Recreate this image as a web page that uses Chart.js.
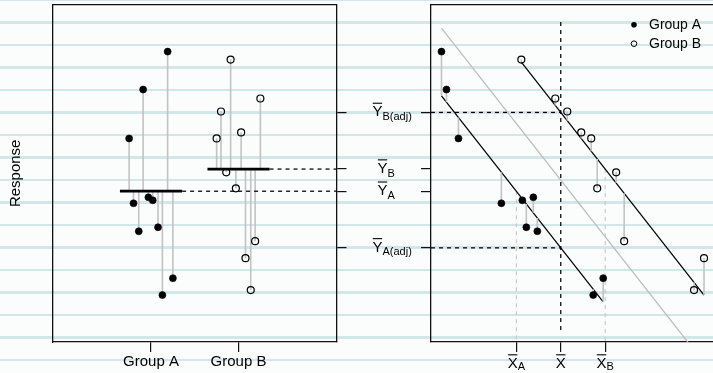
<!DOCTYPE html>
<html>
<head>
<meta charset="utf-8">
<script src="https://cdn.jsdelivr.net/npm/chart.js@4/dist/chart.umd.min.js"></script>
<style>
html, body { margin: 0; padding: 0; width: 713px; height: 373px; overflow: hidden; }
body {
  background-color: #fbfdfc;
  background-image: repeating-linear-gradient(180deg,
    #d2e7e6 0px, #d2e7e6 1.2px,
    #fbfdfc 1.2px, #fbfdfc 21.3px,
    #d2e7e6 21.3px, #d2e7e6 22.5px);
}
#wrap { position: relative; width: 713px; height: 373px; overflow: hidden; }
canvas { position: absolute; left: 0; top: 0; }
</style>
</head>
<body>
<div id="wrap">
  <canvas id="leftChart" width="713" height="373" style="width:713px;height:373px"></canvas>
  <canvas id="rightChart" width="760" height="373" style="width:760px;height:373px"></canvas>
</div>
<script>
// ---------------- data ----------------
const groupLabels = ['Group A', 'Group B'];
const legendLabels = ['Group A', 'Group B'];
const responseTitle = 'Response';

// Group A: jittered position in the left panel, covariate, response
const jitterA = [1.19, 0.91, 0.75, 0.80, 1.02, 1.08, 0.97, 0.86, 1.13, 1.25];
const covA    = [1.0, 1.5, 2.7, 7.0, 9.1, 9.5, 10.2, 10.6, 16.2, 17.2];
const respA   = [29.1, 25.3, 20.4, 13.9, 14.2, 11.5, 14.5, 11.1, 4.7, 6.4];

// Group B
const jitterB = [1.91, 2.25, 1.80, 2.03, 1.75, 1.97, 1.86, 2.19, 2.14, 2.08];
const covB    = [9.0, 12.4, 13.6, 15.0, 16.0, 16.6, 18.5, 19.3, 26.3, 27.3];
const respB   = [28.3, 24.4, 23.1, 21.0, 20.4, 15.4, 17.0, 10.1, 5.2, 8.4];

// tick labels: [symbol with bar, subscript]
const yMeanTickLabels = [['Y', 'A(adj)'], ['Y', 'A'], ['Y', 'B'], ['Y', 'B(adj)']];
const xMeanTickLabels = [['X', 'A'], ['X', ''], ['X', 'B']];

// extent of the vertical reference line at the overall covariate mean
const refLineRange = [1.2, 32.2];

// ---------------- statistics (as in an ANCOVA) ----------------
const mean = a => a.reduce((s, v) => s + v, 0) / a.length;
const sxy = (x, y) => { const mx = mean(x), my = mean(y); return x.reduce((s, v, i) => s + (v - mx) * (y[i] - my), 0); };
const mxA = mean(covA), mxB = mean(covB), myA = mean(respA), myB = mean(respB);
const mxAll = mean(covA.concat(covB)), myAll = mean(respA.concat(respB));
const slope = (sxy(covA, respA) + sxy(covB, respB)) / (sxy(covA, covA) + sxy(covB, covB));
const adjA = myA + slope * (mxAll - mxA);
const adjB = myB + slope * (mxAll - mxB);
const fitA = x => myA + slope * (x - mxA);
const fitB = x => myB + slope * (x - mxB);
const fitAll = x => myAll + slope * (x - mxAll);
const yMeanTickValues = [adjA, myA, myB, adjB];
const xMeanTickValues = [mxA, mxAll, mxB];

// ---------------- styles ----------------
const FONT = "'Liberation Sans', Arial, Helvetica, sans-serif";
const LEFT_X = [-0.12, 3.12];
const RIGHT_X = [-0.05, 28.35];
const Y_RANGE = [0, 33.8];
const MEAN_HALF = 0.355;
const box = { display: true, color: '#111', width: 1.3 };
const noGrid = { display: false };
const tickGrid = { display: true, drawOnChartArea: false, drawTicks: true, tickLength: 10, color: '#111', lineWidth: 1.2 };
const GRAY_SEG = '#c2c2c2';

function lineDs(data, style) {
  return Object.assign({ data, showLine: true, pointRadius: 0, pointHoverRadius: 0, fill: false,
    tension: 0, borderColor: '#000', borderWidth: 1.25, spanGaps: false }, style);
}
function residuals(xs, ys, target) {
  const d = [];
  xs.forEach((x, i) => { d.push({ x, y: ys[i] }, { x, y: target(x) }, { x, y: null }); });
  return d;
}
function pointsDs(xs, ys, filled) {
  return {
    data: xs.map((x, i) => ({ x, y: ys[i] })), showLine: false, order: 0,
    pointRadius: 3.5, pointHoverRadius: 3.5,
    pointBackgroundColor: filled ? '#000' : 'rgba(0,0,0,0)',
    pointBorderColor: '#000', pointBorderWidth: filled ? 0.6 : 1.2
  };
}
const common = {
  responsive: false, animation: false, devicePixelRatio: 1, events: [],
  layout: { padding: 0 },
  plugins: { legend: { display: false }, tooltip: { enabled: false } }
};

// ---------------- left panel ----------------
new Chart(document.getElementById('leftChart'), {
  type: 'scatter',
  data: {
    datasets: [
      pointsDs(jitterA, respA, true),
      pointsDs(jitterB, respB, false),
      lineDs([{ x: 1 - MEAN_HALF, y: myA }, { x: 1 + MEAN_HALF, y: myA }], { borderWidth: 2.7, order: 1 }),
      lineDs([{ x: 2 - MEAN_HALF, y: myB }, { x: 2 + MEAN_HALF, y: myB }], { borderWidth: 2.7, order: 1 }),
      lineDs([{ x: 1 + MEAN_HALF, y: myA }, { x: LEFT_X[1], y: myA }], { borderDash: [4, 4], order: 2 }),
      lineDs([{ x: 2 + MEAN_HALF, y: myB }, { x: LEFT_X[1], y: myB }], { borderDash: [4, 4], order: 2 }),
      lineDs(residuals(jitterA, respA, () => myA), { borderColor: GRAY_SEG, borderWidth: 1.6, order: 3 }),
      lineDs(residuals(jitterB, respB, () => myB), { borderColor: GRAY_SEG, borderWidth: 1.6, order: 3 })
    ]
  },
  options: Object.assign({}, common, {
    scales: {
      x: {
        type: 'linear', position: 'bottom', min: LEFT_X[0], max: LEFT_X[1],
        afterBuildTicks: s => { s.ticks = [1, 2].map(v => ({ value: v })); },
        afterFit: s => { s.height = 31; },
        ticks: { display: true, color: '#000', font: { family: FONT, size: 15 }, padding: 1,
          maxRotation: 0, autoSkip: false, callback: (v, i) => groupLabels[i] },
        grid: tickGrid, border: box
      },
      xTop: {
        type: 'linear', position: 'top', min: LEFT_X[0], max: LEFT_X[1],
        ticks: { display: false }, grid: noGrid, border: box,
        afterFit: s => { s.height = 4; }
      },
      y: {
        type: 'linear', position: 'left', min: Y_RANGE[0], max: Y_RANGE[1],
        ticks: { display: false }, grid: noGrid, border: box,
        title: { display: true, text: responseTitle, color: '#000',
          font: { family: FONT, size: 15 }, padding: { top: 7, bottom: 0 } },
        afterFit: s => { s.width = 53; }
      },
      yRight: {
        type: 'linear', position: 'right', min: Y_RANGE[0], max: Y_RANGE[1],
        afterBuildTicks: s => { s.ticks = yMeanTickValues.map(v => ({ value: v })); },
        ticks: { display: false }, grid: tickGrid, border: box,
        afterFit: s => { s.width = 713 - 336.5; }
      }
    }
  })
});

// ---------------- right panel ----------------
function drawBarLabel(ctx, main, sub, x, base, mode, subDrop) {
  const mainFont = '15px ' + FONT, subFont = '11px ' + FONT;
  ctx.font = mainFont; const wm = ctx.measureText(main).width;
  ctx.font = subFont; const ws = sub ? ctx.measureText(sub).width : 0;
  const w = wm + ws;
  const left = mode === 'center' ? x - w / 2 : x - 0.23 * w;
  ctx.textAlign = 'left'; ctx.textBaseline = 'alphabetic';
  ctx.font = mainFont; ctx.fillText(main, left, base);
  ctx.beginPath(); ctx.moveTo(left + 0.3, base - 13.2); ctx.lineTo(left + wm - 0.3, base - 13.2); ctx.stroke();
  if (sub) { ctx.font = subFont; ctx.fillText(sub, left + wm, base + subDrop); }
}

const labelPlugin = {
  id: 'meanLabels',
  afterDraw(chart) {
    const ctx = chart.ctx, xs = chart.scales.x, ys = chart.scales.y, ca = chart.chartArea;
    ctx.save();
    ctx.fillStyle = '#000'; ctx.strokeStyle = '#000'; ctx.lineWidth = 1.1;
    xMeanTickValues.forEach((v, i) => {
      drawBarLabel(ctx, xMeanTickLabels[i][0], xMeanTickLabels[i][1], xs.getPixelForValue(v), xs.top + 26, 'center', 2);
    });
    yMeanTickValues.forEach((v, i) => {
      drawBarLabel(ctx, yMeanTickLabels[i][0], yMeanTickLabels[i][1], ca.left - 49.5, ys.getPixelForValue(v) + 4, 'anchor', 3.5);
    });
    // legend (top right)
    const dotX = ca.right - 80.5, textX = ca.right - 65.5;
    const rows = [ca.top + 20, ca.top + 39];
    ctx.font = '14px ' + FONT; ctx.textAlign = 'left'; ctx.textBaseline = 'alphabetic';
    legendLabels.forEach((lab, i) => {
      ctx.beginPath(); ctx.arc(dotX, rows[i], 2.8, 0, Math.PI * 2);
      if (i === 0) { ctx.fill(); } else { ctx.lineWidth = 1; ctx.stroke(); }
      ctx.fillText(lab, textX, rows[i] + 4.5);
    });
    ctx.restore();
  }
};

const minAll = Math.min(...covA, ...covB), maxAll = Math.max(...covA, ...covB);
new Chart(document.getElementById('rightChart'), {
  type: 'scatter',
  data: {
    datasets: [
      pointsDs(covA, respA, true),
      pointsDs(covB, respB, false),
      lineDs(residuals(covA, respA, fitA), { borderColor: GRAY_SEG, borderWidth: 1.6, order: 1 }),
      lineDs(residuals(covB, respB, fitB), { borderColor: GRAY_SEG, borderWidth: 1.6, order: 1 }),
      lineDs([{ x: Math.min(...covA), y: fitA(Math.min(...covA)) }, { x: Math.max(...covA), y: fitA(Math.max(...covA)) }], { order: 2 }),
      lineDs([{ x: Math.min(...covB), y: fitB(Math.min(...covB)) }, { x: Math.max(...covB), y: fitB(Math.max(...covB)) }], { order: 2 }),
      lineDs([{ x: RIGHT_X[0], y: adjB }, { x: mxAll, y: adjB }], { borderDash: [4, 4], order: 3 }),
      lineDs([{ x: RIGHT_X[0], y: adjA }, { x: mxAll, y: adjA }], { borderDash: [4, 4], order: 3 }),
      lineDs([{ x: mxAll, y: refLineRange[0] }, { x: mxAll, y: refLineRange[1] }], { borderDash: [4, 4], order: 3 }),
      lineDs([{ x: mxA, y: myA }, { x: mxA, y: Y_RANGE[0] }], { borderDash: [4, 4], borderColor: '#c6c6c6', borderWidth: 1.1, order: 4 }),
      lineDs([{ x: mxB, y: myB }, { x: mxB, y: Y_RANGE[0] }], { borderDash: [4, 4], borderColor: '#c6c6c6', borderWidth: 1.1, order: 4 }),
      lineDs([{ x: minAll, y: fitAll(minAll) }, { x: maxAll, y: fitAll(maxAll) }], { borderColor: '#bdbdbd', borderWidth: 1.3, order: 5 })
    ]
  },
  options: Object.assign({}, common, {
    scales: {
      x: {
        type: 'linear', position: 'bottom', min: RIGHT_X[0], max: RIGHT_X[1],
        afterBuildTicks: s => { s.ticks = xMeanTickValues.map(v => ({ value: v })); },
        afterFit: s => { s.height = 31; },
        ticks: { display: false }, grid: tickGrid, border: box
      },
      xTop: {
        type: 'linear', position: 'top', min: RIGHT_X[0], max: RIGHT_X[1],
        ticks: { display: false }, grid: noGrid, border: box,
        afterFit: s => { s.height = 4; }
      },
      y: {
        type: 'linear', position: 'left', min: Y_RANGE[0], max: Y_RANGE[1],
        afterBuildTicks: s => { s.ticks = yMeanTickValues.map(v => ({ value: v })); },
        ticks: { display: false }, grid: tickGrid, border: box,
        afterFit: s => { s.width = 431; }
      },
      yRight: {
        type: 'linear', position: 'right', min: Y_RANGE[0], max: Y_RANGE[1],
        ticks: { display: false }, grid: noGrid, border: box,
        afterFit: s => { s.width = 760 - 714.5; }
      }
    }
  }),
  plugins: [labelPlugin]
});
</script>
</body>
</html>
